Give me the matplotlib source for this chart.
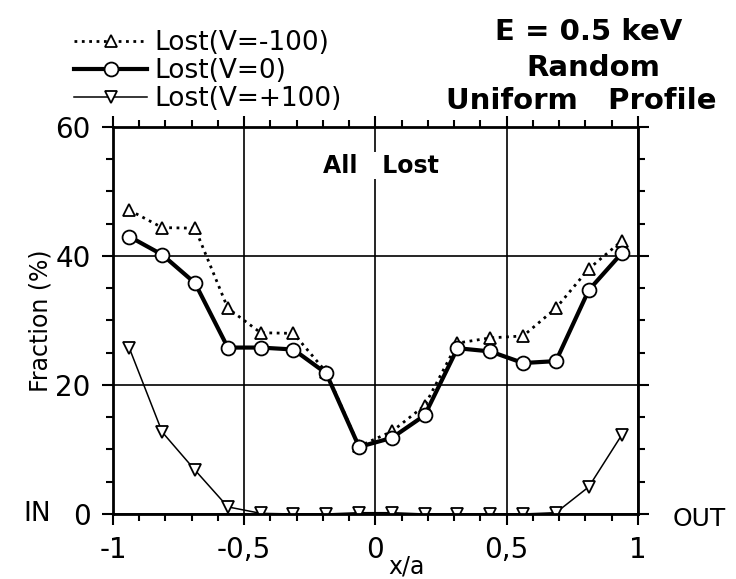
import matplotlib
matplotlib.use("Agg")
import matplotlib.pyplot as plt
import numpy as np
from matplotlib.ticker import MultipleLocator, FixedLocator

# 数据
x_pos = [-0.9375, -0.8125, -0.6875, -0.5625, -0.4375, -0.3125, -0.1875, -0.0625,
         0.0625, 0.1875, 0.3125, 0.4375, 0.5625, 0.6875, 0.8125, 0.9375]
lost_vm100 = [47.1, 44.4, 44.3, 31.9, 28.1, 28.0, 22.0, 10.5,
              12.8, 16.8, 26.5, 27.3, 27.6, 31.9, 38.0, 42.3]
lost_v0 = [43.0, 40.2, 35.8, 25.8, 25.8, 25.5, 21.8, 10.4,
           11.8, 15.3, 25.7, 25.2, 23.4, 23.7, 34.7, 40.4]
lost_vp100 = [25.7, 12.7, 6.8, 1.1, 0.1, 0.0, 0.0, 0.2,
              0.2, 0.0, 0.0, 0.0, 0.0, 0.2, 4.2, 12.2]
x_ticks = [-1, -0.5, 0, 0.5, 1]
x_ticklabels = ["-1", "-0,5", "0", "0,5", "1"]
y_ticks = [0, 20, 40, 60]

plt.rcParams["font.family"] = ["DejaVu Sans"]

fig = plt.figure(figsize=(7.36, 5.79), dpi=100)
ax = fig.add_axes([0.1535, 0.1123, 0.7133, 0.6684])

# 三条曲线
ax.plot(x_pos, lost_vm100, linestyle=":", color="black", lw=2,
        marker="^", ms=8, mfc="white", mec="black", mew=1.3,
        label="Lost(V=-100)")
ax.plot(x_pos, lost_v0, linestyle="-", color="black", lw=3,
        marker="o", ms=10, mfc="white", mec="black", mew=1.3,
        label="Lost(V=0)")
ax.plot(x_pos, lost_vp100, linestyle="-", color="black", lw=1.1,
        marker="v", ms=9, mfc="white", mec="black", mew=1.3,
        label="Lost(V=+100)")

ax.set_xlim(-1, 1)
ax.set_ylim(0, 60)
ax.xaxis.set_major_locator(FixedLocator(x_ticks))
ax.set_xticklabels(x_ticklabels)
ax.xaxis.set_minor_locator(MultipleLocator(0.1))
ax.yaxis.set_major_locator(FixedLocator(y_ticks))
ax.yaxis.set_minor_locator(MultipleLocator(5))

ax.tick_params(which="both", direction="out", top=True, right=True,
               labeltop=False, labelright=False, width=1.5, labelsize=20)
ax.tick_params(which="major", length=8, pad=8)
ax.tick_params(which="minor", length=5)
for s in ax.spines.values():
    s.set_linewidth(2)

# 网格线
ax.grid(True, which="major", color="black", lw=1.2)

ax.set_xlabel("x/a", fontsize=17)
ax.xaxis.set_label_coords(0.56, -0.105)
ax.set_ylabel("Fraction (%)", fontsize=17)
ax.yaxis.set_label_coords(-0.115, 0.5)

ax.text(0.02, 54, "All   Lost", ha="center", va="center", fontsize=17,
        fontweight="bold", bbox=dict(facecolor="white", edgecolor="none", pad=1))

# IN / OUT 标签
ax.text(-1.29, 0, "IN", ha="center", va="center", fontsize=19, clip_on=False)
ax.text(1.235, -0.8, "OUT", ha="center", va="center", fontsize=18,
        clip_on=False)

# 右上角说明
fig.text(0.80, 0.944, "E = 0.5 keV", ha="center", va="center", fontsize=21,
         fontweight="bold")
fig.text(0.806, 0.883, "Random", ha="center", va="center", fontsize=21,
         fontweight="bold")
fig.text(0.79, 0.826, "Uniform   Profile", ha="center", va="center", fontsize=21,
         fontweight="bold")

fig.legend(loc="upper left", bbox_to_anchor=(0.1, 0.948), frameon=False,
           fontsize=19, handlelength=2.8, handletextpad=0.25, labelspacing=0.08,
           borderaxespad=0, borderpad=0)

fig.savefig("out.png", dpi=100)
